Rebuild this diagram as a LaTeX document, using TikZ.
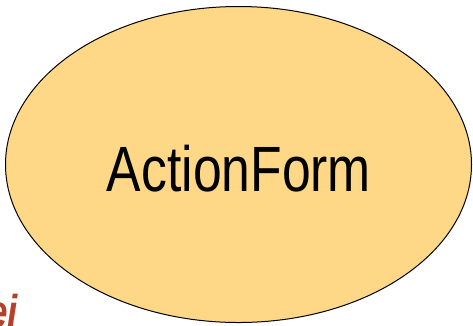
\documentclass[tikz,border=0pt]{standalone}
\usepackage{fontspec}
\setmainfont{Liberation Sans}
\usetikzlibrary{shapes.geometric}
\definecolor{formfill}{HTML}{FFD887}
\definecolor{accent}{HTML}{B5412A}
\tikzset{
  classbubble/.style={ellipse, draw=black, line width=1pt, fill=formfill,
    minimum width=466pt, minimum height=316pt, inner sep=0pt},
  bubbletext/.style={inner sep=0pt, font=\fontsize{64}{70}\selectfont},
  sidetext/.style={inner sep=0pt, anchor=base west, text=accent,
    font=\fontsize{46}{50}\selectfont\bfseries\itshape}
}
\begin{document}
\begin{tikzpicture}[x=1pt, y=-1pt]
  \useasboundingbox (0,0) rectangle (473,325);
  \clip (0,0) rectangle (473,325);
  \node[classbubble] (form) at (238.5,164.5) {};
  \node[bubbletext] (label) at (239,169) {\scalebox{0.807}[1]{ActionForm}};
  \node[sidetext] (side) at (-13,327) {\scalebox{0.8}[1]{ei}};
\end{tikzpicture}
\end{document}
